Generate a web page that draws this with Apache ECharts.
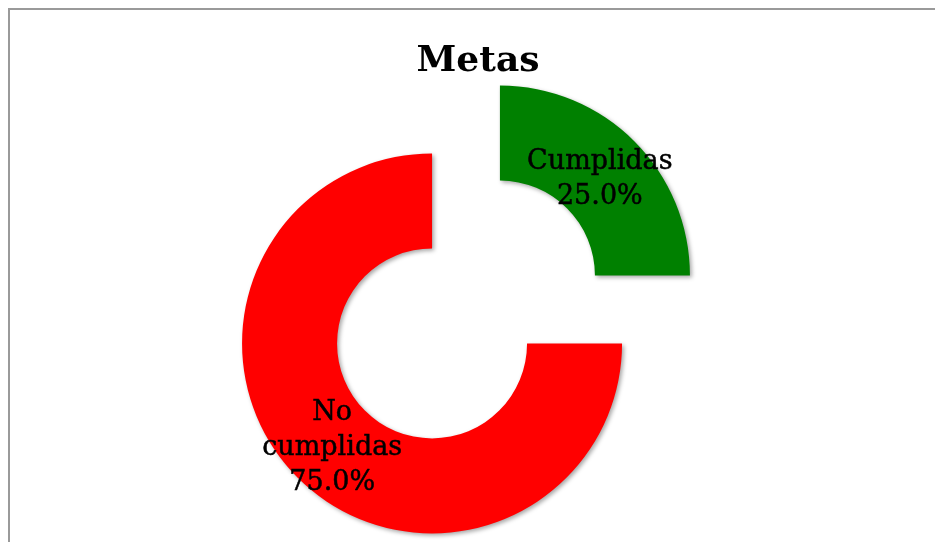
<!DOCTYPE html>
<html>
<head>
<meta charset="utf-8">
<script src="https://cdn.jsdelivr.net/npm/echarts@6/dist/echarts.min.js"></script>
<style>
html,body{margin:0;padding:0;background:#fff;}
#c{width:935px;height:542px;}
</style>
</head>
<body>
<div id="c"></div>
<script>
const categories = ['Cumplidas', 'No cumplidas'];
const values = [25, 75];
const colors = ['#008000', '#ff0000'];
const titleText = 'Metas';

const chart = echarts.init(document.getElementById('c'), null, {renderer: 'canvas'});
const labelShift = [[-3, 7], [3, 2]];
const data = categories.map((name, i) => ({
  name: name,
  value: values[i],
  selected: true,
  itemStyle: {color: colors[i]}
}));

chart.setOption({
  animation: false,
  backgroundColor: '#ffffff',
  title: {
    text: titleText,
    left: 473,
    textAlign: 'center',
    top: 39,
    textStyle: {fontFamily: 'DejaVu Serif', fontWeight: 'bold', fontSize: 36, color: '#000'}
  },
  graphic: [{
    type: 'rect',
    shape: {x: 9, y: 9, width: 1000, height: 700},
    style: {fill: 'none', stroke: '#9a9a9a', lineWidth: 2},
    silent: true
  }],
  series: [{
    type: 'pie',
    center: [466, 309.5],
    radius: [95, 190],
    startAngle: 90,
    clockwise: true,
    selectedMode: 'multiple',
    selectedOffset: 48,
    avoidLabelOverlap: false,
    emphasis: {scale: false, disabled: true},
    itemStyle: {
      shadowBlur: 4,
      shadowColor: 'rgba(0,0,0,0.35)',
      shadowOffsetX: 2,
      shadowOffsetY: 2
    },
    label: {
      show: true,
      position: 'inside',
      fontFamily: 'DejaVu Serif',
      fontSize: 27,
      lineHeight: 35,
      color: '#000',
      textBorderColor: '#000',
      textBorderWidth: 0.5,
      align: 'center',
      formatter: p => p.name.replace(' ', '\n') + '\n' + p.percent.toFixed(1) + '%'
    },
    labelLayout: p => ({dx: labelShift[p.dataIndex][0], dy: labelShift[p.dataIndex][1]}),
    labelLine: {show: false},
    data: data
  }]
});
</script>
</body>
</html>
